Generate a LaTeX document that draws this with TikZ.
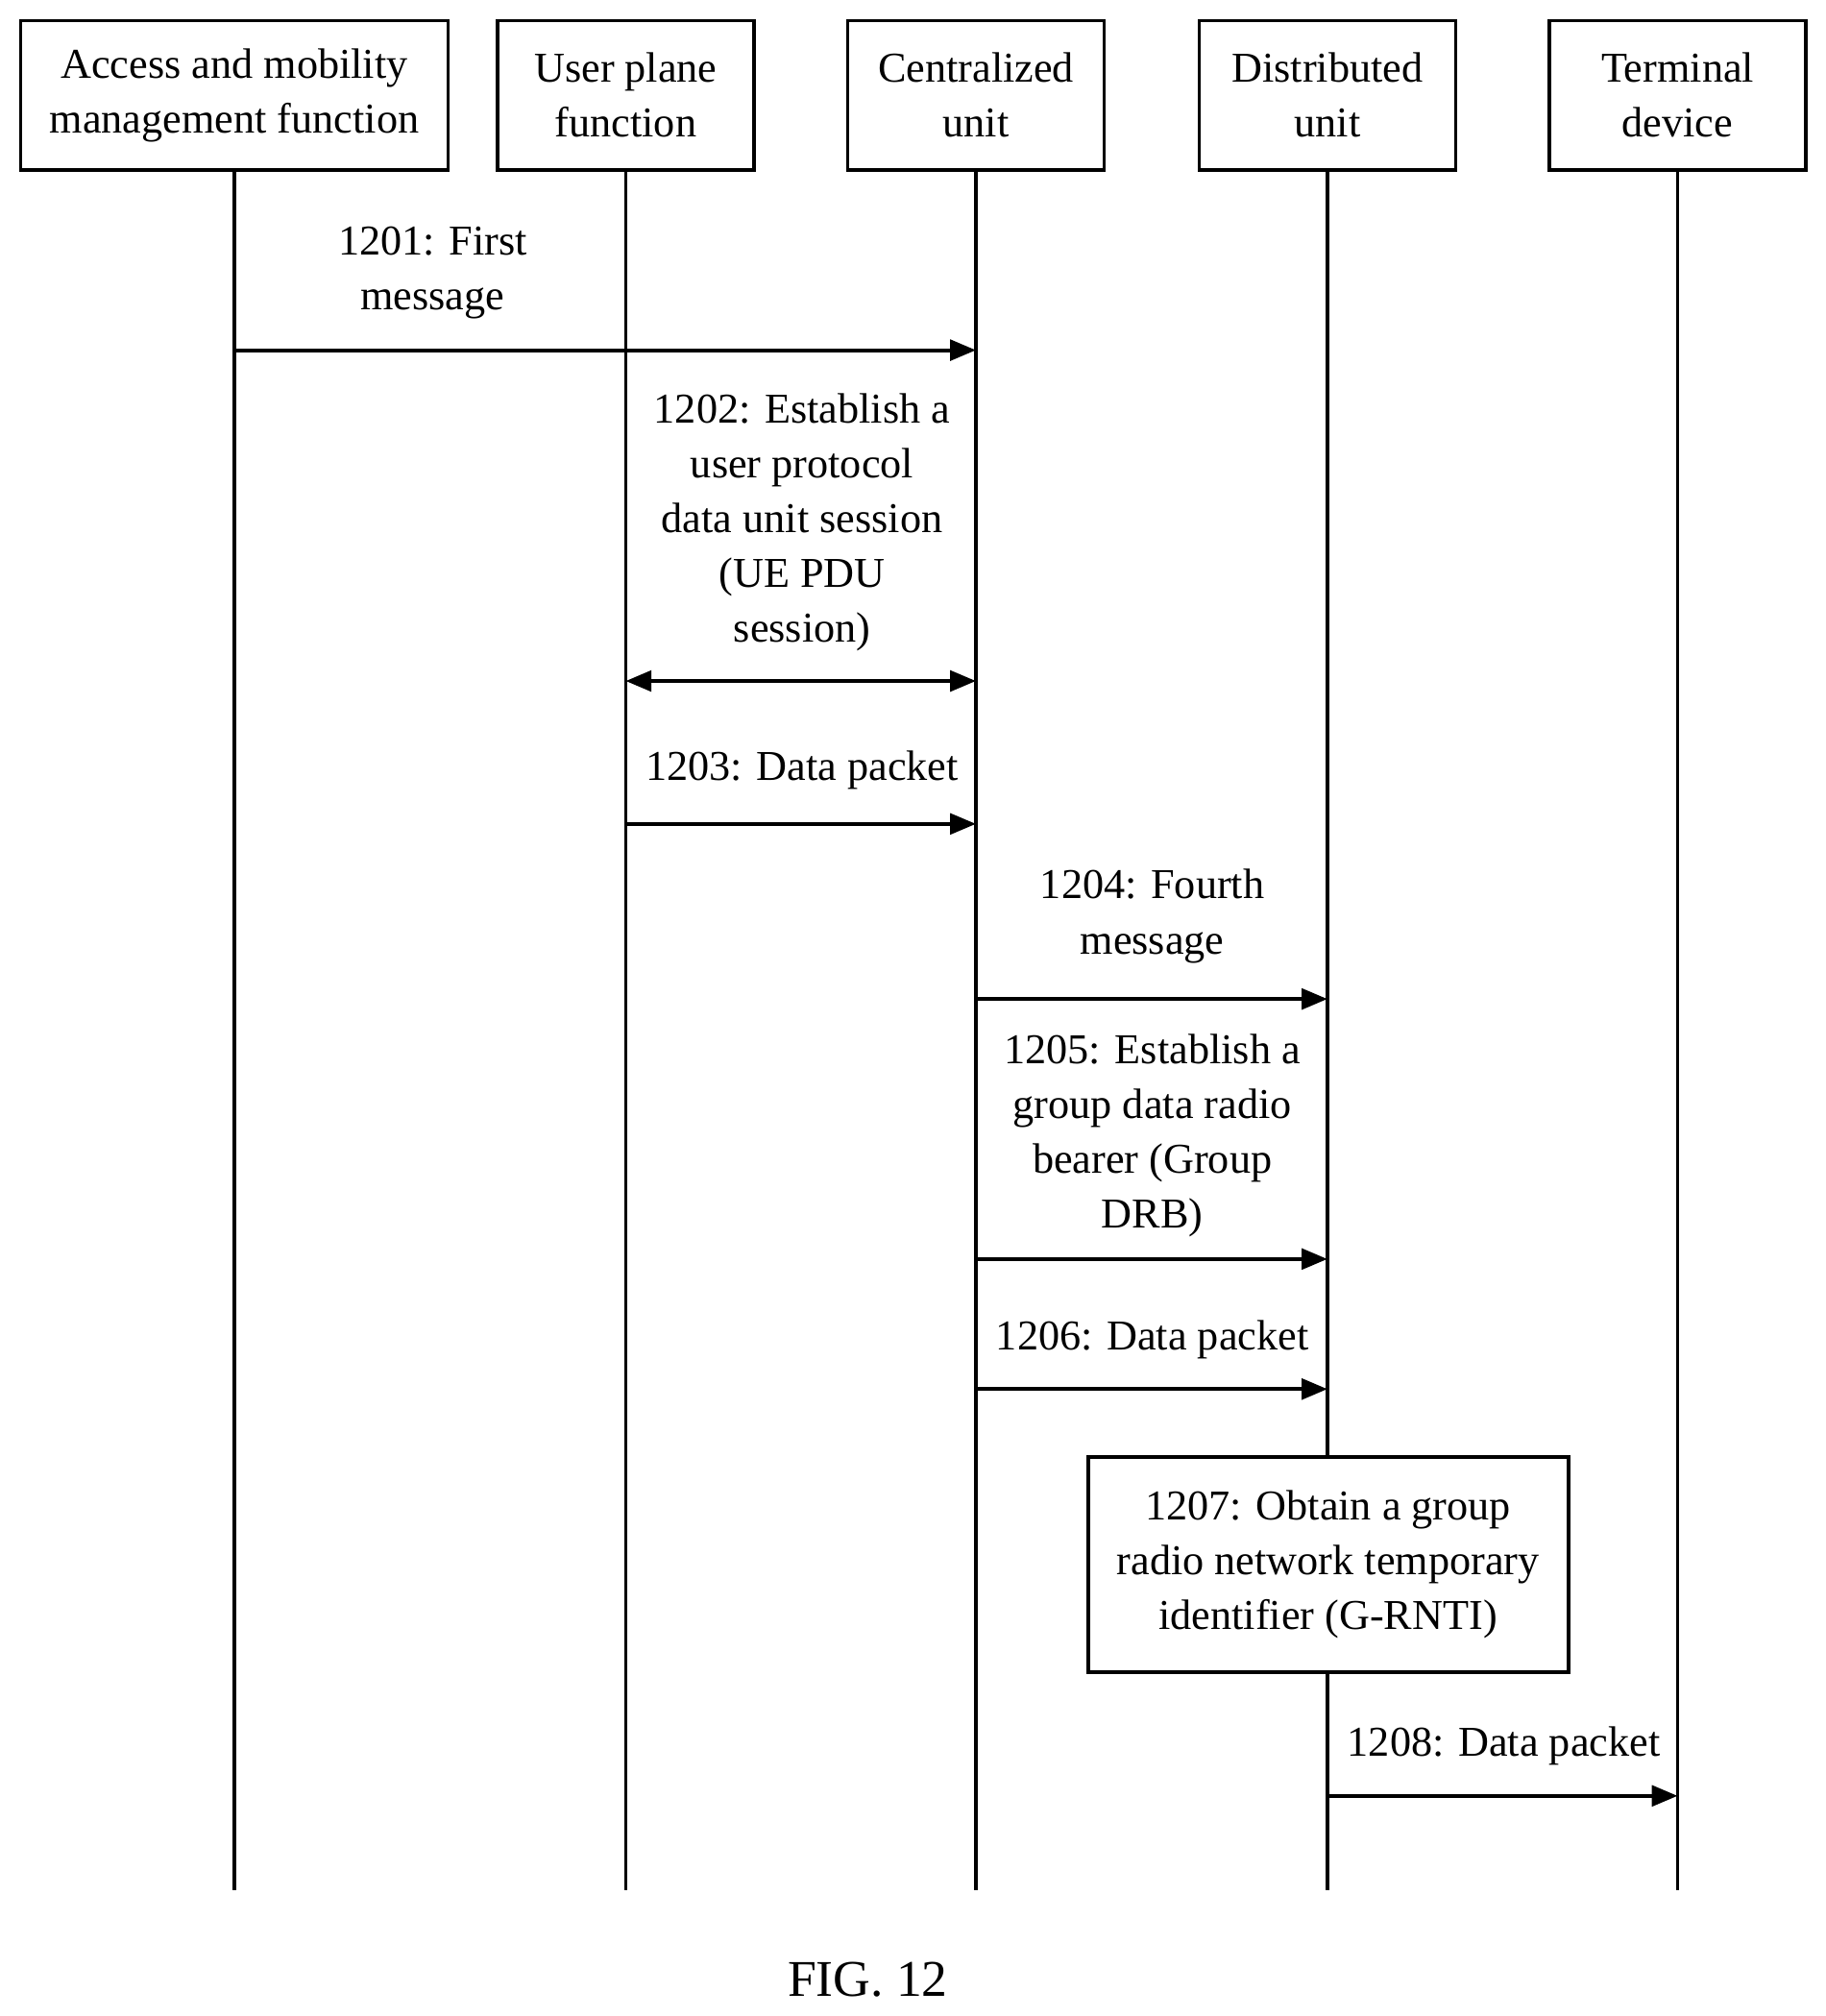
\documentclass[tikz,border=0pt]{standalone}
\usepackage{fontspec}
\setmainfont{Liberation Serif}
\usetikzlibrary{arrows.meta}
\begin{document}
\begin{tikzpicture}[x=0.5pt,y=-0.5pt,
  every node/.style={font=\fontsize{16.5}{21.3}\selectfont},
  ent/.style={draw,line width=1.3pt,minimum width=99.5pt,minimum height=58pt,align=center,inner sep=0pt},
  life/.style={line width=1.3pt},
  msg/.style={line width=1.5pt,-{Triangle[length=10pt,width=8pt]}},
  dmsg/.style={line width=1.5pt,{Triangle[length=10pt,width=8pt]}-{Triangle[length=10pt,width=8pt]}},
  lab/.style={align=center,anchor=north,inner sep=0pt}]
\useasboundingbox (0,0) rectangle (1418,1566);
\node[ent,minimum width=166pt] (amf) at (182,74) {Access and mobility\\management function};
\node[ent] (upf) at (486,74) {User plane\\function};
\node[ent] (cu) at (758,74) {Centralized\\unit};
\node[ent] (du) at (1031,74) {Distributed\\unit};
\node[ent] (td) at (1303,74) {Terminal\\device};
\foreach \n/\x in {amf/182,upf/486,cu/758,du/1031,td/1303}{
  \coordinate (\n e) at (\x,1468);
}
\draw[life] (amf.south) -- (amfe);
\draw[life] (upf.south) -- (upfe);
\draw[life] (cu.south) -- (cue);
\draw[life] (du.south) -- (1031,1132);
\draw[life] (1031,1299) -- (due);
\draw[life] (td.south) -- (tde);
% 1201
\coordinate (a1) at (182,272); \coordinate (c1) at (758,272);
\draw[msg] (a1) -- (c1);
\node[lab] (l1) at (336,176) {1201: First\\message};
% 1202
\coordinate (u2) at (486,529); \coordinate (c2) at (758,529);
\draw[dmsg] (u2) -- (c2);
\node[lab] (l2) at (623,305) {1202: Establish a\\user protocol\\data unit session\\(UE PDU\\session)};
% 1203
\coordinate (u3) at (486,640); \coordinate (c3) at (758,640);
\draw[msg] (u3) -- (c3);
\node[lab] (l3) at (623,583) {1203: Data packet};
% 1204
\coordinate (c4) at (758,776); \coordinate (d4) at (1031,776);
\draw[msg] (c4) -- (d4);
\node[lab] (l4) at (895,675) {1204: Fourth\\message};
% 1205
\coordinate (c5) at (758,978); \coordinate (d5) at (1031,978);
\draw[msg] (c5) -- (d5);
\node[lab] (l5) at (895,803) {1205: Establish a\\group data radio\\bearer (Group\\DRB)};
% 1206
\coordinate (c6) at (758,1079); \coordinate (d6) at (1031,1079);
\draw[msg] (c6) -- (d6);
\node[lab] (l6) at (895,1025) {1206: Data packet};
% 1207
\node[draw,line width=1.5pt,minimum width=186.5pt,minimum height=83.5pt,align=center,inner sep=0pt] (b7) at (1031.5,1215.5) {1207: Obtain a group\\radio network temporary\\identifier (G-RNTI)};
% 1208
\coordinate (d8) at (1031,1395); \coordinate (t8) at (1303,1395);
\draw[msg] (d8) -- (t8);
\node[lab] (l8) at (1168,1341) {1208: Data packet};
\node[font=\fontsize{20}{24}\selectfont] (fig) at (674,1538) {FIG. 12};
\end{tikzpicture}
\end{document}
